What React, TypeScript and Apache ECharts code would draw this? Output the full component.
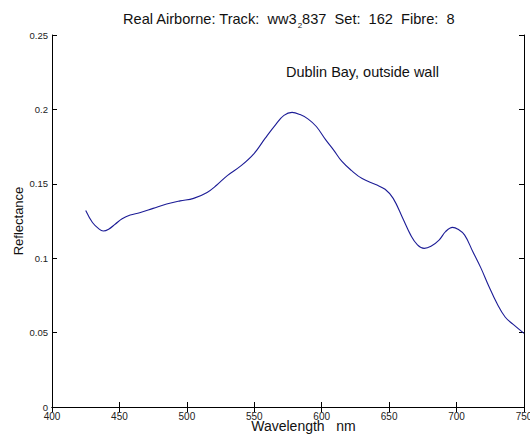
import React, { useEffect, useRef } from "react";
import * as echarts from "echarts";

const wavelengths = [
  425, 430, 435, 438, 442, 447, 452, 458, 465, 475, 485, 495, 505, 515, 522, 530,
  540, 550, 558, 566, 572, 578, 584, 590, 596, 603, 609, 615, 622, 630, 640, 647,
  653, 660, 666, 671, 676, 681, 687, 692, 697, 701, 706, 712, 718, 724, 730, 736,
  742, 750,
];
const reflectance = [
  0.132, 0.124, 0.1195, 0.1183, 0.1195, 0.123, 0.1265, 0.129, 0.1306, 0.1335, 0.1364,
  0.1385, 0.1402, 0.1442, 0.149, 0.1555, 0.162, 0.1705, 0.1805, 0.19, 0.196, 0.198,
  0.1965, 0.1935, 0.1885, 0.1795, 0.1725, 0.165, 0.159, 0.1535, 0.1495, 0.1463,
  0.1402, 0.127, 0.1155, 0.109, 0.1066, 0.108, 0.1122, 0.118, 0.1207, 0.1195, 0.1155,
  0.1045, 0.0935, 0.081, 0.0695, 0.0605, 0.0555, 0.0495,
];
const titleText = "Real Airborne: Track:  ww3{s|2}837  Set:  162  Fibre:  8";
const annotation = "Dublin Bay, outside wall";
const xName = "Wavelength   nm";
const yName = "Reflectance";

export default function App() {
  const ref = useRef<HTMLDivElement>(null);
  useEffect(() => {
    if (!ref.current) return;
    const chart = echarts.init(ref.current, null, { renderer: "svg" });
    const font = "Liberation Sans, Arial, sans-serif";
    const axisLine = { show: true, lineStyle: { color: "#000", width: 1 } };
    const tick = { show: true, inside: true, length: 5, lineStyle: { color: "#000" } };
    chart.setOption({
      animation: false,
      backgroundColor: "#fff",
      title: {
        text: titleText,
        left: 118,
        top: 3,
        textStyle: {
          fontSize: 14.6,
          fontWeight: "normal",
          color: "#111",
          fontFamily: font,
          lineHeight: 22,
          rich: {
            s: {
              fontSize: 8,
              color: "#111",
              fontFamily: font,
              lineHeight: 22,
              padding: [12, 0, 0, 0],
            },
          },
        },
      },
      grid: { left: 52, right: 6, top: 35, bottom: 32, outerBoundsMode: "none" },
      xAxis: [
        {
          type: "value",
          min: 400,
          max: 750,
          interval: 50,
          position: "bottom",
          axisLine,
          axisTick: tick,
          splitLine: { show: false },
          axisLabel: { fontSize: 10, color: "#222", fontFamily: font, margin: 4 },
          name: xName,
          nameLocation: "middle",
          nameGap: 12,
          nameMoveOverlap: false,
          nameTextStyle: {
            fontSize: 14,
            color: "#111",
            fontFamily: font,
            padding: [0, 0, 0, 31],
          },
        },
        {
          type: "value",
          min: 400,
          max: 750,
          interval: 50,
          position: "top",
          axisLine,
          axisTick: tick,
          splitLine: { show: false },
          axisLabel: { show: false },
        },
      ],
      yAxis: [
        {
          type: "value",
          min: 0,
          max: 0.25,
          interval: 0.05,
          position: "left",
          axisLine,
          axisTick: tick,
          splitLine: { show: false },
          axisLabel: {
            fontSize: 9.5,
            color: "#222",
            fontFamily: font,
            margin: 4,
            formatter: (v: number) => String(Math.round(v * 100) / 100),
          },
          name: yName,
          nameLocation: "middle",
          nameGap: 27,
          nameMoveOverlap: false,
          nameTextStyle: { fontSize: 13, color: "#111", fontFamily: font },
        },
        {
          type: "value",
          min: 0,
          max: 0.25,
          interval: 0.05,
          position: "right",
          axisLine,
          axisTick: tick,
          splitLine: { show: false },
          axisLabel: { show: false },
        },
      ],
      graphic: [
        {
          type: "text",
          left: 286,
          top: 64,
          style: { text: annotation, fontSize: 14.5, fill: "#111", fontFamily: font },
        },
      ],
      series: [
        {
          type: "line",
          data: wavelengths.map((w, i) => [w, reflectance[i]]),
          smooth: 0.4,
          showSymbol: false,
          lineStyle: { color: "#1c1c96", width: 1.1 },
        },
      ],
    });
    return () => chart.dispose();
  }, []);
  return (
    <div
      ref={ref}
      style={{ position: "absolute", left: 0, top: 0, width: 530, height: 439 }}
    />
  );
}
